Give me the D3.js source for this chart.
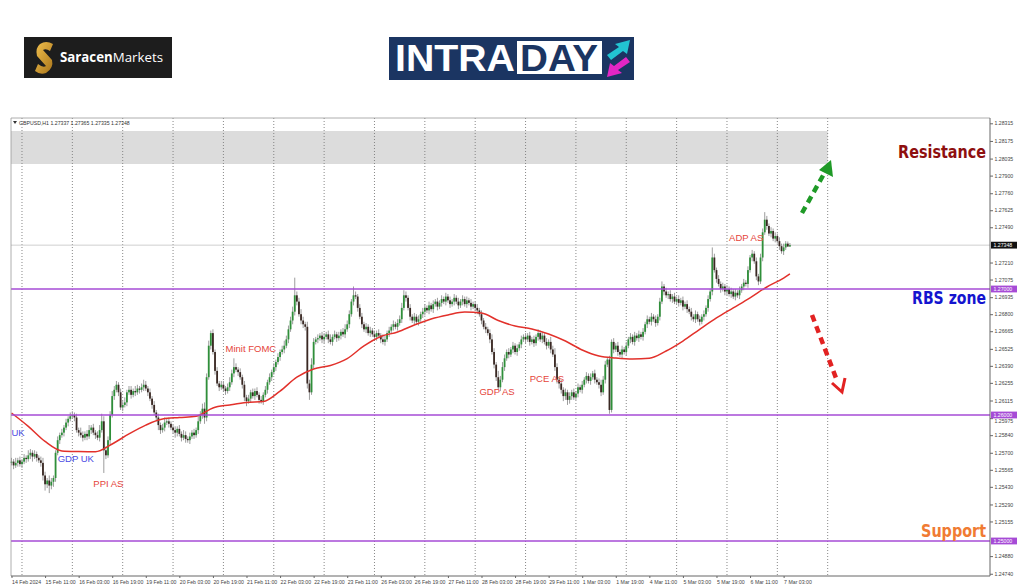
<!DOCTYPE html>
<html><head><meta charset="utf-8">
<script src="https://cdn.jsdelivr.net/npm/d3@7"></script>
<style>html,body{margin:0;padding:0;background:#fff;}svg{display:block;}</style>
</head><body>
<svg id="c" width="1024" height="587"></svg>
<script>
// ---- DATA (prices in pips above 1.25000; one array of H1 closes per trading day) ----
const symbolInfo = "GBPUSD,H1  1.27337 1.27365 1.27335 1.27348";
const closeFeb14 = [63,60,62,64,61];
const closeFeb15 = [63,66,65,68,70,67,69,66,64,62,52,45,48,44,47,50,70,80,84,86,90,94,97,99];
const closeFeb16 = [100,98,88,86,84,82,85,83,88,90,86,84,82,88,95,72,68,80,100,115,120,124,118,106];
const closeFeb19 = [108,110,118,120,116,119,118,121,120,122,124,121,118,113,108,102,98,92,88,90,94,95,93,90];
const closeFeb20 = [88,86,89,85,82,84,81,80,83,86,84,88,95,100,105,98,130,155,165,150,135,125,122,124];
const closeFeb21 = [121,119,122,126,133,138,136,134,130,124,114,111,113,118,115,119,116,112,111,116,120,126,130,134];
const closeFeb22 = [138,142,146,150,152,155,160,168,175,182,195,190,180,175,172,170,125,118,140,158,160,161,163,160];
const closeFeb23 = [162,164,160,158,162,164,161,163,166,164,168,172,180,190,195,194,185,178,172,168,170,165,167,164];
const closeFeb26 = [162,165,163,160,158,160,165,167,170,172,170,173,176,185,195,193,185,178,175,178,174,176,180,182];
const closeFeb27 = [185,183,187,184,188,190,186,189,192,190,194,191,188,190,193,190,187,190,192,188,191,189,186,188];
const closeFeb28 = [185,183,180,175,170,168,165,160,150,140,130,122,128,138,145,150,148,152,155,150,153,156,160,162];
const closeFeb29 = [160,163,158,160,157,162,165,160,163,158,155,158,152,148,138,128,125,120,115,118,112,115,118,114];
const closeMar01 = [117,122,120,124,128,131,127,130,133,128,126,124,118,128,140,144,104,158,152,155,150,148,152,150];
const closeMar04 = [155,160,162,158,163,161,164,162,166,172,176,174,178,176,173,178,190,202,198,195,196,192,194,190];
const closeMar05 = [192,189,191,186,188,184,182,178,176,180,176,174,178,180,185,192,198,225,215,208,204,200,202,198];
const closeMar06 = [200,196,198,194,197,195,199,202,205,204,215,225,228,222,210,206,225,245,255,250,244,246,240,242];
const closeMar07 = [238,234,230,233,236,233.7,234.8];
// upper / lower shadow length beyond the body, pips
const upperWick = [
  [3,2,4,2,3],
  [2,3,2,4,3,2,3,2,2,3,4,3,2,4,3,2,2,3,2,3,2,3,2,3],
  [3,2,3,2,4,3,2,3,4,2,3,2,3,4,6,4,3,3,3,4,3,3,2,3],
  [3,4,2,3,3,2,4,3,2,3,4,3,2,3,2,3,2,3,2,3,4,2,3,2],
  [2,3,2,3,2,4,3,2,3,2,3,2,4,3,4,5,3,4,2,3,2,3,2,3],
  [3,2,3,4,3,7,3,2,3,2,3,2,3,2,3,2,3,2,3,2,3,2,3,2],
  [3,2,3,2,3,4,3,3,3,4,14,3,3,4,3,2,4,3,5,3,2,3,2,3],
  [3,2,3,4,2,3,2,3,2,3,4,3,3,2,7,3,2,3,3,2,3,2,3,2],
  [3,2,3,2,4,3,2,3,2,3,2,3,3,4,4,3,2,3,2,3,2,3,2,3],
  [3,2,3,2,3,2,3,2,3,2,3,2,3,2,3,2,3,2,3,2,3,2,3,2],
  [2,3,2,3,2,3,2,3,4,3,2,5,3,4,3,2,3,2,3,2,3,2,3,2],
  [3,2,3,2,3,2,3,2,3,2,3,2,4,3,5,3,2,3,2,3,2,3,2,3],
  [2,3,2,3,2,3,2,3,2,3,2,3,4,3,3,2,3,2,3,2,3,2,3,2],
  [3,2,3,2,3,2,3,2,3,2,3,2,3,2,3,2,3,4,2,3,2,3,2,3],
  [2,3,2,3,2,3,2,3,2,3,2,3,2,3,2,3,2,8,3,2,3,2,3,2],
  [3,2,3,2,3,2,3,2,3,2,3,2,3,2,3,2,3,3,6,3,2,3,2,3],
  [2,3,2,3,2,1.7,1.7]
];
const lowerWick = [
  [2,3,2,3,2],
  [3,2,3,2,3,4,2,3,2,3,4,5,3,6,3,4,3,2,3,2,3,2,3,2],
  [2,3,2,3,2,3,2,3,2,3,2,3,2,3,2,18,3,2,3,2,3,2,3,2],
  [3,2,3,2,3,2,3,2,3,2,3,2,3,2,3,2,3,4,3,2,3,2,3,2],
  [3,4,3,2,3,2,3,2,3,2,3,2,3,2,3,5,3,2,3,2,3,2,3,2],
  [2,3,2,3,2,3,2,3,2,3,3,4,2,3,2,3,2,3,2,3,2,3,2,3],
  [2,3,2,3,2,3,2,3,2,3,3,3,2,3,3,3,4,6,2,3,2,3,2,3],
  [3,2,3,2,3,2,3,2,3,2,3,2,3,2,3,2,3,2,3,2,3,2,3,2],
  [2,3,2,3,2,3,2,3,2,3,2,3,2,3,2,3,2,3,2,3,2,3,2,3],
  [3,2,3,2,3,2,3,2,3,2,3,2,3,2,3,2,3,2,3,2,3,2,3,2],
  [2,3,2,3,2,3,2,3,2,3,3,2,3,2,3,2,3,2,3,2,3,2,3,2],
  [3,2,3,2,3,2,3,2,3,2,3,2,3,2,3,3,4,3,4,3,4,3,3,2],
  [2,3,2,3,2,3,2,3,2,3,2,3,3,2,3,2,3,2,3,2,3,2,3,2],
  [3,2,3,2,3,2,3,2,3,2,3,2,3,2,3,2,3,2,3,2,3,2,3,2],
  [2,3,2,3,2,3,2,3,2,3,2,3,2,3,2,3,2,3,2,3,2,3,2,3],
  [3,2,3,2,3,2,3,2,3,2,3,2,3,2,3,3,2,3,2,3,2,3,2,3],
  [2,3,2,3,2,0.2,0.2]
];
// red moving average, read at bar positions
const maBars = [0,8,16,24,32,40,48,56,64,72,80,88,96,104,112,120,128,136,144,152,160,168,176,184,192,200,208,216,224,232,240,248,256,264,272,280,288,296,304,312,320,328,336,344,352,360,368,371];
const maPips = [101.6,91,79,71.5,71,70.8,77,85,92,96.8,98,99,105.6,108,110,110.7,119,130,136.5,139.3,144.8,154.8,162.3,165.9,171.4,176.2,179.4,181.7,181,175,170.6,168.3,164.3,158.7,151.6,146.8,145.2,144.4,145,150.8,158.7,168,177,185,193,201.6,208.7,212];
// levels
const levelPrices = [1.27000, 1.26000, 1.25000];
const lastPrice = 1.27348;
const resistanceZone = [1.27992, 1.28254];
const yTickValues = [1.28315,1.28175,1.28035,1.27900,1.27760,1.27625,1.27490,1.27210,1.27075,1.26935,1.26800,1.26665,1.26525,1.26390,1.26255,1.26115,1.25975,1.25840,1.25700,1.25565,1.25430,1.25290,1.25155,1.24880,1.24740];
const timeLabels = ["14 Feb 2024","15 Feb 11:00","16 Feb 03:00","16 Feb 19:00","19 Feb 11:00","20 Feb 03:00","20 Feb 19:00","21 Feb 11:00","22 Feb 03:00","22 Feb 19:00","23 Feb 11:00","26 Feb 03:00","26 Feb 19:00","27 Feb 11:00","28 Feb 03:00","28 Feb 19:00","29 Feb 11:00","1 Mar 03:00","1 Mar 19:00","4 Mar 11:00","5 Mar 03:00","5 Mar 19:00","6 Mar 11:00","7 Mar 03:00"];
const events = [
  {text:"UK", bar:0, pips:83, color:"blue"},
  {text:"GDP UK", bar:22, pips:63, color:"blue"},
  {text:"PPI AS", bar:39, pips:43, color:"red"},
  {text:"Minit FOMC", bar:102, pips:150, color:"red"},
  {text:"GDP AS", bar:223, pips:116, color:"red"},
  {text:"PCE AS", bar:247, pips:126, color:"red"},
  {text:"ADP AS", bar:342, pips:238, color:"red"}
];

// ---- build candles ----
const dayCloses = [closeFeb14,closeFeb15,closeFeb16,closeFeb19,closeFeb20,closeFeb21,closeFeb22,closeFeb23,closeFeb26,closeFeb27,closeFeb28,closeFeb29,closeMar01,closeMar04,closeMar05,closeMar06,closeMar07];
const toPrice = p => 1.25 + p/10000;
const candles = [];
const dayStarts = [];
let prev = null;
dayCloses.forEach((arr, d) => {
  dayStarts.push(candles.length);
  arr.forEach((c, k) => {
    const o = prev === null ? c - 1 : prev;
    const hi = Math.max(o, c) + upperWick[d][k];
    const lo = Math.min(o, c) - lowerWick[d][k];
    candles.push({i: candles.length, o: toPrice(o), c: toPrice(c), h: toPrice(hi), l: toPrice(lo)});
    prev = c;
  });
});
dayStarts.push(candles.length + 24 - closeMar07.length); // 8 Mar separator
const gridBars = dayStarts.slice(1);

// ---- layout ----
const L = 11, R = 990, T = 118, B = 576;
const x = d3.scaleLinear().domain([0, 466.36]).range([11.5, R]);
const y = d3.scaleLinear().domain([1.247222, 1.283571]).range([B, T]);

const svg = d3.select("#c");
const defs = svg.append("defs");
const gold = defs.append("linearGradient").attr("id","gold").attr("x1","0").attr("y1","0").attr("x2","1").attr("y2","1");
gold.append("stop").attr("offset","0").attr("stop-color","#f2c14e");
gold.append("stop").attr("offset","1").attr("stop-color","#a8741a");

// header logos
const lg = svg.append("g");
lg.append("rect").attr("x",24).attr("y",37).attr("width",148).attr("height",41).attr("fill","#1d1d1d");
lg.append("path").attr("d","M40,44 Q46,40 53,44 L50,51 Q46,48 43,50 L52,60 Q54,68 46,73 Q40,75 35,71 L38,64 Q43,68 46,66 L37,56 Q35,48 40,44 Z").attr("fill","url(#gold)");
const st = lg.append("text").attr("x",60).attr("y",62).attr("font-family","Open Sans").attr("font-size",13.5).attr("fill","#fff")
  .attr("textLength",103).attr("lengthAdjust","spacingAndGlyphs");
st.append("tspan").attr("font-weight","bold").text("Saracen");
st.append("tspan").text("Markets");

lg.append("rect").attr("x",389).attr("y",37).attr("width",245).attr("height",43).attr("fill","#1b3562");
lg.append("text").attr("x",395).attr("y",71).attr("font-family","Liberation Sans").attr("font-weight","bold").attr("font-size",36)
  .attr("fill","#fff").attr("textLength",120).attr("lengthAdjust","spacingAndGlyphs").text("INTRA");
lg.append("rect").attr("x",517).attr("y",41).attr("width",85).attr("height",33).attr("fill","#fff");
lg.append("text").attr("x",520).attr("y",71).attr("font-family","Liberation Sans").attr("font-weight","bold").attr("font-size",36)
  .attr("fill","#1b3562").attr("textLength",78).attr("lengthAdjust","spacingAndGlyphs").text("DAY");
lg.append("path").attr("d","M607,55 L619,47 L615,44 L630,40 L627,54 L623,51 L611,60 Z").attr("fill","#22c4d2");
lg.append("path").attr("d","M630,62 L618,70 L622,73 L607,77 L610,63 L614,66 L626,57 Z").attr("fill","#e326c4");

// chart background items
const g = svg.append("g");
g.append("rect").attr("x",L).attr("y",y(resistanceZone[1])).attr("width",x(gridBars[16])-L)
  .attr("height",y(resistanceZone[0])-y(resistanceZone[1])).attr("fill","#dcdcdc");
g.selectAll("line.grid").data(gridBars).join("line").attr("class","grid")
  .attr("x1",d=>x(d)).attr("x2",d=>x(d)).attr("y1",T).attr("y2",B)
  .attr("stroke","#7a7a7a").attr("stroke-width",0.9).attr("stroke-dasharray","1,2");
g.append("line").attr("x1",L).attr("x2",R).attr("y1",y(lastPrice)).attr("y2",y(lastPrice)).attr("stroke","#cfcfcf").attr("stroke-width",1);

// candles
const cg = g.append("g");
cg.selectAll("line.w").data(candles).join("line").attr("class","w")
  .attr("x1",d=>x(d.i)).attr("x2",d=>x(d.i)).attr("y1",d=>y(d.h)).attr("y2",d=>y(d.l))
  .attr("stroke","#9c9c9c").attr("stroke-width",1);
cg.selectAll("rect.b").data(candles).join("rect").attr("class","b")
  .attr("x",d=>x(d.i)-0.9).attr("width",1.8)
  .attr("y",d=>y(Math.max(d.o,d.c))).attr("height",d=>Math.max(1, Math.abs(y(d.o)-y(d.c))))
  .attr("fill",d=>d.c>=d.o ? "#2f8f3a" : "#3a2823");

// moving average
const maData = maBars.map((b,k)=>({b, v: toPrice(maPips[k])}));
g.append("path").datum(maData).attr("fill","none").attr("stroke","#e2312b").attr("stroke-width",1.5)
  .attr("d", d3.line().x(d=>x(d.b)).y(d=>y(d.v)).curve(d3.curveMonotoneX));

// purple levels
g.selectAll("line.lvl").data(levelPrices).join("line").attr("class","lvl")
  .attr("x1",L).attr("x2",R).attr("y1",d=>y(d)).attr("y2",d=>y(d))
  .attr("stroke","#a64bd6").attr("stroke-width",1.7);

// frame lines
g.append("line").attr("x1",L).attr("x2",R).attr("y1",T).attr("y2",T).attr("stroke","#9a9a9a").attr("stroke-width",0.8);
g.append("line").attr("x1",L).attr("x2",L).attr("y1",T).attr("y2",B).attr("stroke","#9a9a9a").attr("stroke-width",0.8);

// axes
const yAxis = d3.axisRight(y).tickValues(yTickValues).tickFormat(d3.format(".5f")).tickSize(3).tickPadding(1.5);
const ya = svg.append("g").attr("transform",`translate(${R},0)`).call(yAxis);
ya.select(".domain").attr("d",`M0,${T}V${B}`).attr("stroke","#666");
ya.selectAll(".tick line").attr("stroke","#666");
ya.selectAll("text").attr("font-family","Liberation Sans").attr("font-size",5.2).attr("fill","#444");
ya.selectAll(".tick").filter(d=>Math.abs(d-1.25975)<1e-6).select("text").attr("y",2.6);

const labelBars = timeLabels.map((t,k)=>k*16);
const xAxis = d3.axisBottom(x).tickValues(labelBars).tickFormat((d,k)=>timeLabels[k]).tickSize(2).tickPadding(2.5);
const xa = svg.append("g").attr("transform",`translate(0,${B})`).call(xAxis);
xa.select(".domain").attr("d",`M${L},0H${R}`).attr("stroke","#666");
xa.selectAll(".tick line").attr("stroke","#666");
xa.selectAll("text").attr("text-anchor","start").attr("font-family","Liberation Sans").attr("font-size",5.2).attr("fill","#444");

// price boxes on the axis
const boxes = levelPrices.map(p=>({p, fill:"#a64bd6"})).concat([{p:lastPrice, fill:"#111"}]);
const bx = svg.selectAll("g.bx").data(boxes).join("g").attr("class","bx").attr("transform",d=>`translate(${R+1},${y(d.p)})`);
bx.append("rect").attr("x",0).attr("y",-3.4).attr("width",26).attr("height",6.8).attr("fill",d=>d.fill);
bx.append("text").attr("x",2.5).attr("y",1.8).attr("font-family","Liberation Sans").attr("font-size",5.2).attr("fill","#fff").text(d=>d.p.toFixed(5));

// symbol info
svg.append("path").attr("d","M13,121 L17,121 L15,124 Z").attr("fill","#333");
svg.append("text").attr("x",19).attr("y",124.5).attr("font-family","Liberation Sans").attr("font-size",5.2).attr("fill","#333").text(symbolInfo);

// event labels
svg.selectAll("text.ev").data(events).join("text").attr("class","ev")
  .attr("x",d=>x(d.bar)).attr("y",d=>y(toPrice(d.pips))).attr("font-family","Liberation Sans").attr("font-size",9.5)
  .attr("fill",d=>d.color==="red" ? "#e5433a" : "#4a4ae3").text(d=>d.text);

// zone titles: heavy font, horizontally condensed with a scale so they end at x = 986
const titles = [
  {t:"Resistance", yy:158, c:"#8e0f0f", w:88},
  {t:"RBS zone", yy:304, c:"#1414cf", w:74},
  {t:"Support", yy:537, c:"#f07b33", w:65}
];
titles.forEach(d => {
  const tg = svg.append("g");
  const tx = tg.append("text").attr("x",0).attr("y",0).attr("text-anchor","end").attr("font-family","DejaVu Sans")
    .attr("font-weight","bold").attr("font-size",17.5).attr("fill",d.c).text(d.t);
  const nat = tx.node().getComputedTextLength() || d.w;
  tg.attr("transform",`translate(986,${d.yy}) scale(${d.w/nat},1)`);
});

// dashed arrows
svg.append("line").attr("x1",802).attr("y1",213).attr("x2",825).attr("y2",172).attr("stroke","#1f9a27").attr("stroke-width",4.5).attr("stroke-dasharray","7,5");
svg.append("path").attr("d","M831,160 L833,177 L819,170 Z").attr("fill","#1f9a27");
svg.append("line").attr("x1",812).attr("y1",315).attr("x2",836).attr("y2",378).attr("stroke","#e22222").attr("stroke-width",4.5).attr("stroke-dasharray","7,5");
svg.append("path").attr("d","M832,383 L842,392 L845,378").attr("fill","none").attr("stroke","#e22222").attr("stroke-width",3);
</script></body></html>
